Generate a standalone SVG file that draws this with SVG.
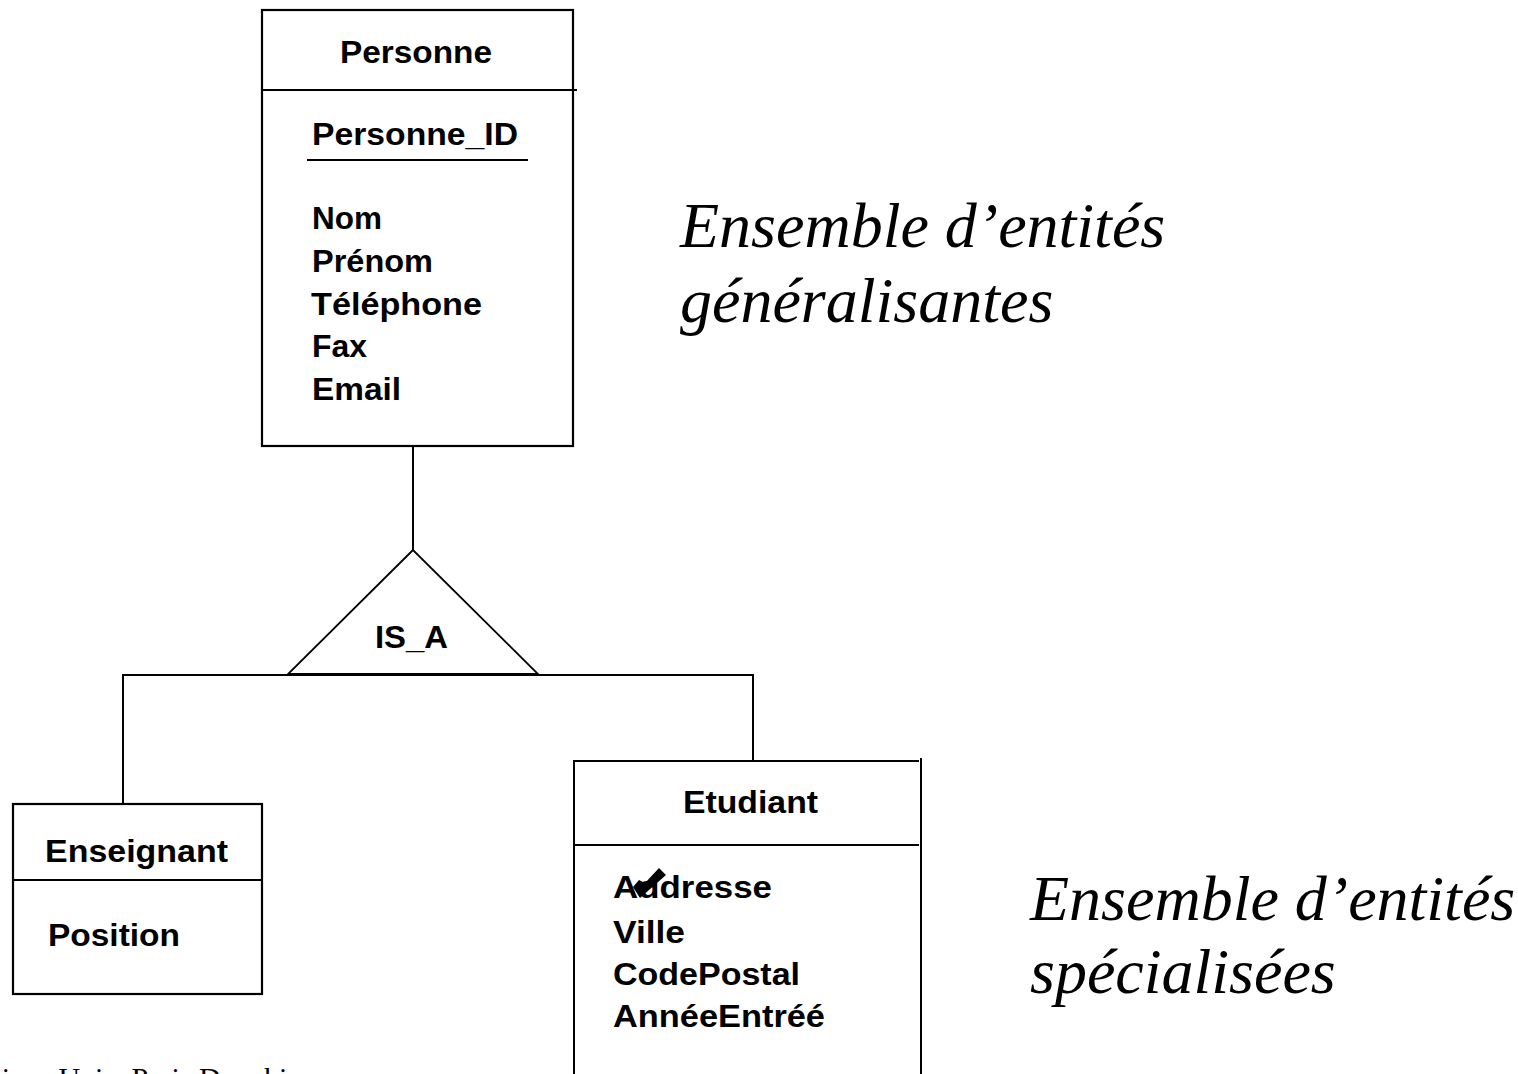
<svg xmlns="http://www.w3.org/2000/svg" width="1518" height="1074" viewBox="0 0 1518 1074">
<style>
.ln{stroke:#000;stroke-width:2;fill:none}
.box{stroke:#000;stroke-width:2.2;fill:#fff}
.t{font-family:"Liberation Sans",Arial,sans-serif;font-weight:bold;font-size:31px;fill:#000}
.it{font-family:"Liberation Serif","Times New Roman",serif;font-style:italic;font-size:64px;fill:#000}
.ft{font-family:"Liberation Serif","Times New Roman",serif;font-size:30px;fill:#000}
</style>
<rect width="1518" height="1074" fill="#fff"/>
<g id="connectors">
<line class="ln" x1="413" y1="446" x2="413" y2="550"/>
<line class="ln" x1="122" y1="675" x2="754" y2="675"/>
<line class="ln" x1="123" y1="675" x2="123" y2="805"/>
<line class="ln" x1="753" y1="675" x2="753" y2="761"/>
</g>
<g id="personne">
<rect class="box" x="262" y="10" width="311" height="436"/>
<line class="ln" x1="262" y1="90" x2="577" y2="90"/>
<text class="t" x="340" y="63" textLength="152" lengthAdjust="spacingAndGlyphs">Personne</text>
<text class="t" x="312" y="145" textLength="206" lengthAdjust="spacingAndGlyphs">Personne_ID</text>
<line class="ln" x1="307" y1="160" x2="528" y2="160"/>
<text class="t" x="312" y="229" textLength="70" lengthAdjust="spacingAndGlyphs">Nom</text>
<text class="t" x="312" y="272" textLength="121" lengthAdjust="spacingAndGlyphs">Prénom</text>
<text class="t" x="311" y="315" textLength="171" lengthAdjust="spacingAndGlyphs">Téléphone</text>
<text class="t" x="312" y="357" textLength="55" lengthAdjust="spacingAndGlyphs">Fax</text>
<text class="t" x="312" y="400" textLength="89" lengthAdjust="spacingAndGlyphs">Email</text>
</g>
<g id="isa">
<polygon points="413,550 288,674 538,674" fill="#fff" stroke="#000" stroke-width="1.8"/>
<text class="t" x="375" y="648" textLength="73" lengthAdjust="spacingAndGlyphs">IS_A</text>
</g>
<g id="enseignant">
<rect class="box" x="13" y="804" width="249" height="190"/>
<line class="ln" x1="13" y1="880" x2="262" y2="880"/>
<text class="t" x="45" y="862" textLength="183" lengthAdjust="spacingAndGlyphs">Enseignant</text>
<text class="t" x="48" y="946" textLength="132" lengthAdjust="spacingAndGlyphs">Position</text>
</g>
<g id="etudiant">
<path class="ln" d="M574,1080 V761 H919"/>
<line class="ln" x1="921" y1="758" x2="921" y2="1080"/>
<line class="ln" x1="574" y1="845" x2="919" y2="845"/>
<text class="t" x="683" y="813" textLength="135" lengthAdjust="spacingAndGlyphs">Etudiant</text>
<text class="t" x="613" y="898" textLength="159" lengthAdjust="spacingAndGlyphs">Addresse</text>
<polygon points="633,887 640,898 666,875 659,868 645,883 639,880" fill="#000"/>
<text class="t" x="613" y="943" textLength="72" lengthAdjust="spacingAndGlyphs">Ville</text>
<text class="t" x="613" y="985" textLength="187" lengthAdjust="spacingAndGlyphs">CodePostal</text>
<text class="t" x="613" y="1027" textLength="212" lengthAdjust="spacingAndGlyphs">AnnéeEntréé</text>
</g>
<g id="label-general">
<text class="it" x="680" y="247">Ensemble d’entités</text>
<text class="it" x="680" y="322">généralisantes</text>
</g>
<g id="label-special">
<text class="it" x="1030" y="920">Ensemble d’entités</text>
<text class="it" x="1030" y="993">spécialisées</text>
</g>
<g id="footer">
<text class="ft" x="-199" y="1088">Maude Manouvrier - Univ. Paris Dauphine</text>
</g>
</svg>
